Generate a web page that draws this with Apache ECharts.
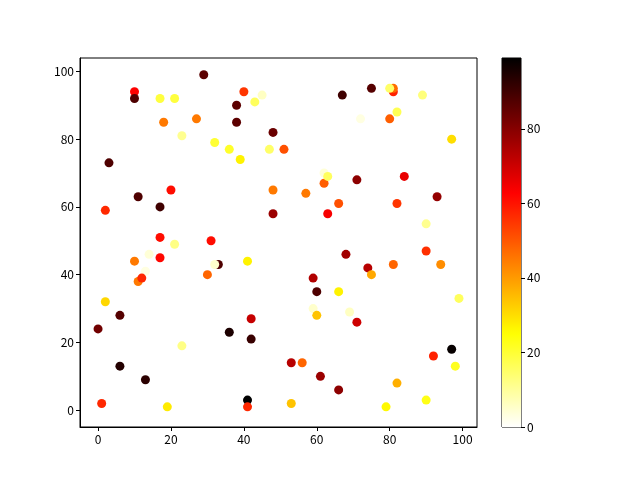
<!DOCTYPE html>
<html>
<head>
<meta charset="utf-8">
<script src="https://cdn.jsdelivr.net/npm/echarts@6/dist/echarts.min.js"></script>
<style>
  html, body { margin: 0; padding: 0; background: #fff; }
  #chart { width: 640px; height: 480px; }
</style>
</head>
<body>
<div id="chart"></div>
<script>
// point positions and colour values
var xs = [29,10,10,17,21,40,45,43,38,18,27,38,48,23,32,36,39,47,51,3,20,11,48,2,17,48,17,21,31,
          67,75,81,81,80,89,82,72,80,97,62,62,63,71,84,93,57,66,82,63,90,
          14,17,10,41,33,32,30,13,11,12,2,6,0,36,42,42,23,6,13,1,19,41,41,
          68,90,74,81,94,75,59,60,66,99,59,60,69,71,97,92,98,53,56,61,66,82,53,79,90];
var ys = [99,94,92,92,92,94,93,91,90,85,86,85,82,81,79,77,74,77,77,73,65,63,65,59,60,58,51,49,50,
          93,95,94,95,95,93,88,86,86,80,67,70,69,68,69,63,64,61,61,58,55,
          46,45,44,44,43,43,40,41,38,39,32,28,24,23,27,21,19,13,9,2,1,3,1,
          46,47,42,43,43,40,39,35,35,33,30,28,29,26,18,16,13,14,14,10,6,8,2,1,3];
var cs = [86,63,88,19,19,55,6,16,86,45,45,86,84,11,20,21,27,15,51,88,61,88,45,57,90,77,61,12,61,
          90,87,58,47,15,13,17,3,49,30,49,4,16,79,66,78,45,51,55,64,11,
          4,62,45,27,88,5,48,3,45,57,31,87,83,95,71,91,12,94,93,57,28,99,57,
          76,56,73,48,42,38,74,88,27,16,5,34,6,70,98,58,22,73,48,77,79,37,34,26,23];
var colorMin = 0, colorMax = 99;
var axisTicks = [0, 20, 40, 60, 80, 100];
var barTicks = [0, 20, 40, 60, 80];

// matplotlib 'hot_r' colormap
function hotR(t) {
  var s = 1 - t;
  var r = Math.min(1, s / 0.365);
  var g = Math.max(0, Math.min(1, (s - 0.365) / 0.381));
  var b = Math.max(0, Math.min(1, (s - 0.746) / 0.254));
  return 'rgb(' + Math.round(r * 255) + ',' + Math.round(g * 255) + ',' + Math.round(b * 255) + ')';
}
var ramp = [], stops = [];
for (var i = 0; i <= 60; i++) {
  ramp.push(hotR(i / 60));
  stops.push({ offset: i / 60, color: hotR(i / 60) });
}

var points = xs.map(function (x, i) { return [x, ys[i], cs[i]]; });

var font = '"Noto Sans CJK SC", "Noto Sans", sans-serif';
var labelStyle = { color: '#000', fontSize: 12, fontFamily: font };

var myChart = echarts.init(document.getElementById('chart'));
var option = {
  backgroundColor: '#fff',
  animation: false,
  grid: [
    { left: 80, top: 58, width: 397, height: 369, show: true, borderColor: '#000', borderWidth: 1, backgroundColor: 'transparent' },
    { left: 502, top: 58, width: 19, height: 369, show: true, borderColor: '#000', borderWidth: 1, backgroundColor: 'transparent' }
  ],
  xAxis: [
    {
      gridIndex: 0, type: 'value', min: -4.95, max: 103.95,
      splitLine: { show: false },
      axisLine: { onZero: false, lineStyle: { color: '#000' } },
      axisTick: { length: 4, customValues: axisTicks, lineStyle: { color: '#000' } },
      axisLabel: Object.assign({ margin: 6, customValues: axisTicks }, labelStyle)
    },
    {
      gridIndex: 1, type: 'category', data: ['c'],
      axisLine: { show: false }, axisTick: { show: false }, axisLabel: { show: false }
    }
  ],
  yAxis: [
    {
      gridIndex: 0, type: 'value', min: -4.95, max: 103.95,
      splitLine: { show: false },
      axisLine: { onZero: false, lineStyle: { color: '#000' } },
      axisTick: { length: 4, customValues: axisTicks, lineStyle: { color: '#000' } },
      axisLabel: Object.assign({ margin: 6, customValues: axisTicks }, labelStyle)
    },
    {
      gridIndex: 1, type: 'value', position: 'right', min: colorMin, max: colorMax,
      splitLine: { show: false },
      axisLine: { show: false },
      axisTick: { show: true, length: 4, customValues: barTicks, lineStyle: { color: '#000' } },
      axisLabel: Object.assign({ margin: 6, customValues: barTicks }, labelStyle)
    }
  ],
  visualMap: {
    show: false, type: 'continuous', seriesIndex: 0, dimension: 2,
    min: colorMin, max: colorMax,
    inRange: { color: ramp }
  },
  series: [
    {
      type: 'scatter', xAxisIndex: 0, yAxisIndex: 0,
      symbolSize: 9,
      itemStyle: { opacity: 1 },
      data: points
    },
    {
      type: 'bar', xAxisIndex: 1, yAxisIndex: 1,
      barWidth: '100%', silent: true,
      itemStyle: { color: new echarts.graphic.LinearGradient(0, 1, 0, 0, stops) },
      data: [colorMax]
    }
  ]
};
myChart.setOption(option);
</script>
</body>
</html>
